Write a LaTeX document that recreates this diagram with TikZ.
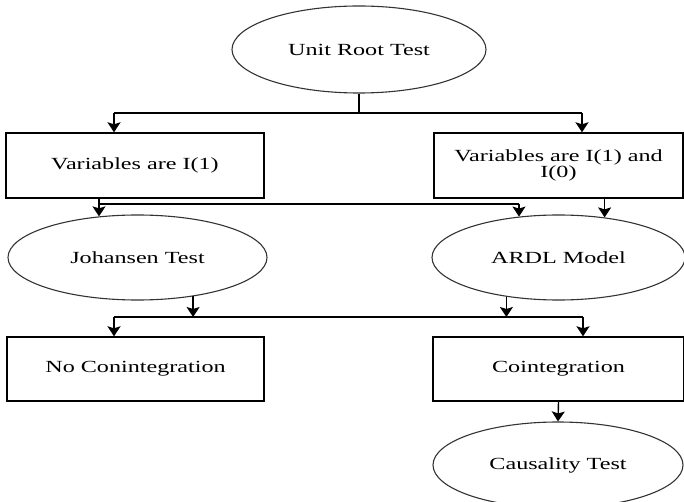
\documentclass[tikz,border=0pt]{standalone}
\usepackage{fontspec}
\newfontfamily\lblfont[FakeStretch=1.42]{Liberation Serif}
\usetikzlibrary{shapes.geometric,arrows.meta}
\begin{document}
\begin{tikzpicture}[x=1pt,y=-1pt,
  lbl/.style={font=\lblfont\fontsize{17}{15}\selectfont,align=center,text=black},
  boxnode/.style={lbl,draw=black,line width=1.4pt,rectangle,inner sep=0pt},
  ellnode/.style={lbl,draw=black!80,line width=1.1pt,ellipse,inner sep=0pt},
  conn/.style={line width=1.4pt,black},
  arr/.style={conn,-{Stealth[length=10pt,width=13pt,inset=2pt]}}]
\useasboundingbox (0,0) rectangle (684,502);
\node[ellnode,minimum width=254pt,minimum height=87pt] (urt) at (359,49.5) {Unit Root Test};
\node[boxnode,minimum width=258pt,minimum height=65pt] (va) at (135,165.5) {Variables are I(1)};
\node[boxnode,minimum width=249pt,minimum height=65pt] (vb) at (558.5,165.5) {Variables are I(1) and\\I(0)};
\node[ellnode,minimum width=259pt,minimum height=85pt] (jo) at (137.5,257.5) {Johansen Test};
\node[ellnode,minimum width=253pt,minimum height=85pt] (ar) at (558.5,257.5) {ARDL Model};
\node[boxnode,minimum width=257pt,minimum height=64pt] (nc) at (135.5,369) {No Conintegration};
\node[boxnode,minimum width=251pt,minimum height=64pt] (co) at (558.5,369) {Cointegration};
\node[ellnode,minimum width=250pt,minimum height=86pt] (ca) at (558,465) {Causality Test};
% level 1
\coordinate (j1l) at (114,113);
\coordinate (j1r) at (582,113);
\draw[conn] (urt.south) -- (urt.south |- j1l);
\draw[conn] (j1l) -- (j1r);
\draw[arr] (j1l) -- (j1l |- va.north);
\draw[arr] (j1r) -- (j1r |- vb.north);
% level 2
\coordinate (j2l) at (99,204);
\coordinate (j2r) at (519,204);
\draw[conn] (j2l |- va.south) -- (j2l) -- (j2r);
\draw[arr] (j2l) -- (j2l |- jo.133.5);
\draw[arr] (j2r) -- (j2r |- ar.134.4);
\draw[arr] (ar.41.1 |- vb.south) -- (ar.41.1);
% level 3
\coordinate (j3l) at (114,317);
\coordinate (j3r) at (583,317);
\draw[arr] (jo.-35.9) -- (jo.-35.9 |- j3l);
\draw[arr] (ar.-143) -- (ar.-143 |- j3l);
\draw[conn] (j3l) -- (j3r);
\draw[arr] (j3l) -- (j3l |- nc.north);
\draw[arr] (j3r) -- (j3r |- co.north);
% level 4
\draw[arr] (co.south) -- (ca.north);
\end{tikzpicture}
\end{document}
